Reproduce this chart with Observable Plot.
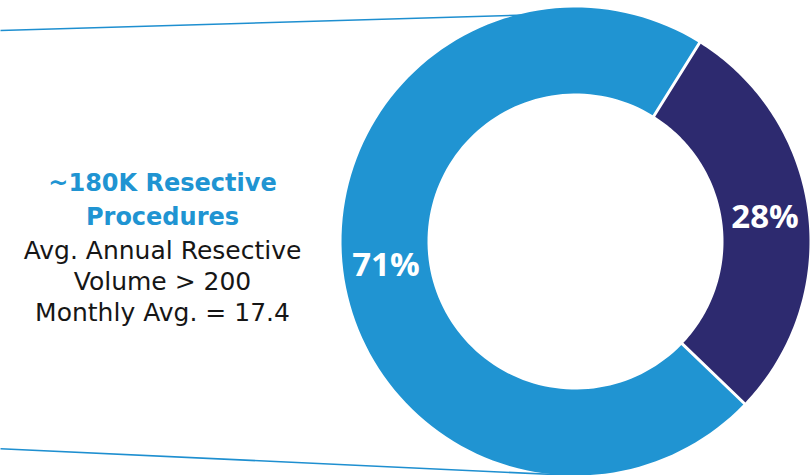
<!DOCTYPE html>
<html>
<head>
<meta charset="utf-8">
<script src="https://cdn.jsdelivr.net/npm/d3@7"></script>
<script src="https://cdn.jsdelivr.net/npm/@observablehq/plot@0.6"></script>
<style>
  html, body { margin: 0; padding: 0; background: #fff; }
  #chart svg { display: block; }
</style>
</head>
<body>
<div id="chart"></div>
<script>
// ---- data ----
const categories = ["Resective", "Other"];
const shares = [71, 28];
const sliceColors = ["#2094D2", "#2D2A6F"];
const titleLines = ["~180K Resective", "Procedures"];
const bodyLines = ["Avg. Annual Resective", "Volume > 200", "Monthly Avg. = 17.4"];

// ---- geometry (pixel-like units) ----
const W = 810, H = 475;
const cx = 575, cy = 241, rOuter = 234, rInner = 148, gap = 3;
const startDeg = 133.8;
const a0 = startDeg * Math.PI / 180;

const pie = d3.pie().sort(null).value(d => d.v).startAngle(a0).endAngle(a0 + 2 * Math.PI);
const arcs = pie(categories.map((c, i) => ({ c, v: shares[i], color: sliceColors[i] })));

const pt = (r, a) => ({ x: cx + r * Math.sin(a), y: cy - r * Math.cos(a) });
const poly = [];
for (const arc of arcs) {
  const n = 120;
  const oo = (gap / 2) / rOuter, oi = (gap / 2) / rInner;
  for (let k = 0; k <= n; k++) {
    const a = arc.startAngle + oo + (arc.endAngle - arc.startAngle - 2 * oo) * k / n;
    poly.push({ ...pt(rOuter, a), c: arc.data.c });
  }
  for (let k = n; k >= 0; k--) {
    const a = arc.startAngle + oi + (arc.endAngle - arc.startAngle - 2 * oi) * k / n;
    poly.push({ ...pt(rInner, a), c: arc.data.c });
  }
}
const rMid = (rOuter + rInner) / 2;
const labels = arcs.map(arc => {
  const m = (arc.startAngle + arc.endAngle) / 2;
  return { ...pt(rMid, m), text: `${arc.data.v}%` };
});

const connectors = [
  { x1: 0, y1: 30, x2: 575, y2: 13 },
  { x1: 0, y1: 448.3, x2: 575, y2: 475 }
];

const textX = 162;
const titleData = titleLines.map((t, i) => ({ t, x: textX, y: 190 + i * 34 }));
const bodyData = bodyLines.map((t, i) => ({ t, x: textX, y: 258 + i * 31 }));

const chart = Plot.plot({
  width: W, height: H,
  margin: 0,
  x: { domain: [0, W], range: [0, W], axis: null },
  y: { domain: [0, H], range: [0, H], axis: null },
  color: { domain: categories, range: sliceColors },
  style: { fontFamily: "'Open Sans', sans-serif", background: "#fff" },
  marks: [
    Plot.link(connectors, { x1: "x1", y1: "y1", x2: "x2", y2: "y2", stroke: "#1E8FD0", strokeWidth: 1.6 }),
    Plot.line(poly, { x: "x", y: "y", z: "c", fill: "c", stroke: null, curve: "linear-closed" }),
    Plot.text(labels, { x: "x", y: "y", text: "text", fill: "white", fontSize: 33, fontWeight: "bold", textAnchor: "middle" }),
    Plot.text(titleData, { x: "x", y: "y", text: "t", fill: "#2094D2", fontSize: 24, fontWeight: "bold", fontFamily: "'DejaVu Sans', sans-serif", lineAnchor: "bottom" }),
    Plot.text(bodyData, { x: "x", y: "y", text: "t", fill: "#161616", fontSize: 25, fontFamily: "'DejaVu Sans', sans-serif", lineAnchor: "bottom" })
  ]
});
document.getElementById("chart").appendChild(chart);
</script>
</body>
</html>
